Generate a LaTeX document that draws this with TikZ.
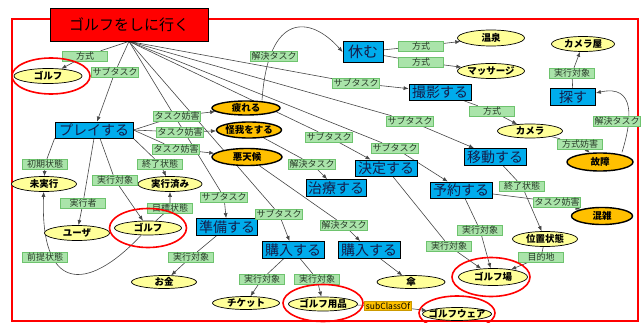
\documentclass[tikz,border=0pt]{standalone}
\usepackage{fontspec}
\setmainfont{Noto Sans CJK JP}
\usetikzlibrary{shapes.geometric,arrows.meta,backgrounds}

\definecolor{frameRed}{RGB}{255,0,0}
\definecolor{taskBlue}{RGB}{0,172,236}
\definecolor{taskInk}{RGB}{20,30,75}
\definecolor{conceptYellow}{RGB}{255,255,153}
\definecolor{eventOrange}{RGB}{255,192,0}
\definecolor{relGreen}{RGB}{170,228,170}
\definecolor{relEdge}{RGB}{110,195,110}
\definecolor{relInk}{RGB}{40,60,40}
\definecolor{edgeGray}{RGB}{70,70,70}

% text that does not change the size of its node, centred on the node
\newcommand\ztext[1]{\smash{\makebox[0pt]{\raisebox{-0.38em}{#1}}}}

\tikzset{
  wh/.style 2 args={minimum width=#1, minimum height=#2},
  relbox/.style={draw=relEdge, fill=relGreen, text=relInk, line width=0.4pt,
    font=\fontsize{9}{9}\selectfont, inner xsep=1pt, inner ysep=0.3pt,
    minimum width=45, minimum height=10},
  taskbox/.style={draw=black, fill=taskBlue, text=taskInk, line width=0.8pt,
    font=\fontsize{14}{14}\selectfont, inner sep=0pt},
  concept/.style={ellipse, draw=black, fill=conceptYellow, line width=0.7pt,
    font=\bfseries\fontsize{9.5}{10}\selectfont, inner sep=0pt},
  hazard/.style={ellipse, draw=black, fill=eventOrange, line width=1.4pt,
    font=\bfseries\fontsize{9.5}{10}\selectfont, inner sep=0pt},
  ring/.style={ellipse, draw=frameRed, line width=1.6pt, inner sep=0pt},
  link/.style={draw=edgeGray, line width=0.6pt, -{Latex[length=5pt,width=4pt]}},
}

\begin{document}
\begin{tikzpicture}[x=1pt,y=-1pt]
\useasboundingbox (0,0) rectangle (644,323);

% goal
\node[draw=black, fill=frameRed, line width=0.8pt, wh={158}{33}, inner sep=0pt,
      font=\fontsize{15}{15}\selectfont] (goal) at (129,24.5) {\ztext{ゴルフをしに行く}};

% tasks
\node[taskbox, wh={40}{21}, font=\fontsize{15}{15}\selectfont] (rest) at (363,52) {\ztext{休む}};
\node[taskbox, wh={62}{16}] (shoot) at (440,92) {\ztext{撮影する}};
\node[taskbox, wh={45}{17}] (search) at (573,97) {\ztext{探す}};
\node[taskbox, wh={78}{16}] (play) at (94,130) {\ztext{プレイする}};
\node[taskbox, wh={62}{17}] (move) at (495,157) {\ztext{移動する}};
\node[taskbox, wh={62}{16}] (decide) at (386,168) {\ztext{決定する}};
\node[taskbox, wh={60}{17}] (treat) at (336,188) {\ztext{治療する}};
\node[taskbox, wh={62}{16}] (reserve) at (461,190) {\ztext{予約する}};
\node[taskbox, wh={61}{17}] (prepare) at (227,227) {\ztext{準備する}};
\node[taskbox, wh={62}{17}] (buyA) at (293,250) {\ztext{購入する}};
\node[taskbox, wh={62}{17}] (buyB) at (369,250) {\ztext{購入する}};

% concepts
\node[concept, wh={68}{15}] (golfA) at (48,76) {\ztext{ゴルフ}};
\node[concept, wh={67}{16}] (onsen) at (491,38) {\ztext{温泉}};
\node[concept, wh={67}{15}] (massage) at (491,71) {\ztext{マッサージ}};
\node[concept, wh={63}{15}] (camshop) at (583,44) {\ztext{カメラ屋}};
\node[concept, wh={65}{14}] (camera) at (530,131) {\ztext{カメラ}};
\node[concept, wh={65}{15}] (undone) at (44,184) {\ztext{未実行}};
\node[concept, wh={64}{15}] (done) at (170,184) {\ztext{実行済み}};
\node[concept, wh={65}{15}] (user) at (77,233) {\ztext{ユーザ}};
\node[concept, wh={67}{14}] (golfB) at (148,228) {\ztext{ゴルフ}};
\node[concept, wh={65}{13}] (money) at (164,282) {\ztext{お金}};
\node[concept, wh={67}{13}] (ticket) at (246,303) {\ztext{チケット}};
\node[concept, wh={69}{14}] (gear) at (323,304) {\ztext{ゴルフ用品}};
\node[concept, wh={68}{13}] (umbrella) at (411,282) {\ztext{傘}};
\node[concept, wh={65}{15}] (location) at (545,239) {\ztext{位置状態}};
\node[concept, wh={69}{17}] (course) at (493,277) {\ztext{ゴルフ場}};
\node[concept, wh={69}{13}] (wear) at (457,314) {\ztext{ゴルフウェア}};

% hindrances
\node[hazard, wh={68}{14}] (tired) at (246,108) {\ztext{疲れる}};
\node[hazard, wh={65}{16}] (injury) at (249,130) {\ztext{怪我をする}};
\node[hazard, wh={70}{17}] (weather) at (247,157) {\ztext{悪天候}};
\node[hazard, wh={66}{18}] (failure) at (600,162) {\ztext{故障}};
\node[hazard, wh={61}{17}] (crowd) at (602,216) {\ztext{混雑}};

% relation labels
\node[relbox] (lMethodGolf) at (85,56) {方式};
\node[relbox] (lSubPlay) at (115,72) {サブタスク};
\node[relbox] (lSolveTired) at (274,56) {解決タスク};
\node[relbox] (lSubShoot) at (356,83) {サブタスク};
\node[relbox] (lMethodOnsen) at (421,46) {方式};
\node[relbox] (lMethodMassage) at (421,62) {方式};
\node[relbox] (lObjShop) at (572,73) {実行対象};
\node[relbox] (lMethodCam) at (492,111) {方式};
\node[relbox] (lSolveFailure) at (617,121) {解決タスク};
\node[relbox] (lSubMove) at (410,121) {サブタスク};
\node[relbox] (lSubDecide) at (329,137) {サブタスク};
\node[relbox] (lSubReserve) at (395,148) {サブタスク};
\node[relbox] (lHinderCam) at (580,144) {方式妨害};
\node[relbox] (lHinderTired) at (177,116) {タスク妨害};
\node[relbox] (lHinderInjury) at (180,132) {タスク妨害};
\node[relbox] (lHinderWeather) at (176,149) {タスク妨害};
\node[relbox] (lEndState) at (160,164) {終了状態};
\node[relbox] (lInitState) at (45,164) {初期状態};
\node[relbox] (lObjGolf) at (115,180) {実行対象};
\node[relbox] (lSolveInjury) at (312,164) {解決タスク};
\node[relbox] (lEndMove) at (522,186) {終了状態};
\node[relbox] (lHinderReserve) at (557,202) {タスク妨害};
\node[relbox] (lSubPrepare) at (224,197) {サブタスク};
\node[relbox] (lAgent) at (83,203) {実行者};
\node[relbox] (lGoalState) at (170,208) {目標状態};
\node[relbox] (lSubBuy) at (279,214) {サブタスク};
\node[relbox] (lSolveWeather) at (344,225) {解決タスク};
\node[relbox] (lObjReserve) at (480,230) {実行対象};
\node[relbox] (lObjDecide) at (449,246) {実行対象};
\node[relbox] (lObjMoney) at (191,257) {実行対象};
\node[relbox] (lPreState) at (45,257) {前提状態};
\node[relbox] (lDest) at (541,257) {目的地};
\node[relbox] (lObjTicket) at (262,279) {実行対象};
\node[relbox] (lObjGear) at (317,279) {実行対象};
\node[relbox, fill=eventOrange, draw=eventOrange!80!black, text=black,
      font=\fontsize{8.5}{9}\selectfont, minimum width=47, minimum height=9] (lSubClass) at (388,306) {subClassOf};

% highlight rings
\node[ring, wh={78}{36}] (ringA) at (51,76) {};
\node[ring, wh={77}{39}] (ringB) at (148,228) {};
\node[ring, wh={80}{37}] (ringC) at (323,303) {};
\node[ring, wh={78}{39}] (ringD) at (491,277) {};
\node[ring, wh={76}{34}] (ringE) at (457,313) {};

\begin{scope}[on background layer]
  \draw[frameRed, line width=1.5pt] (12,19) rectangle (638,321);

  % subtasks and method of the goal
  \draw[link] (goal.south) -- (lMethodGolf) -- (golfA);
  \draw[link] (goal.south) -- (lSubPlay) -- (play);
  \draw[link] (goal.south) -- (lSubShoot) -- (shoot);
  \draw[link] (goal.south) -- (lSubMove) -- (move);
  \draw[link] (goal.south) -- (lSubReserve) -- (reserve);
  \draw[link] (goal.south) -- (lSubDecide) -- (decide);
  \draw[link] (goal.south) -- (lSubPrepare) -- (prepare);
  \draw[link] (goal.south) -- (lSubBuy) -- (buyA);

  % playing
  \draw[link] (play.east) -- (lHinderTired) -- (tired);
  \draw[link] (play.east) -- (lHinderInjury) -- (injury);
  \draw[link] (play.east) -- (lHinderWeather) -- (weather);
  \draw[link] (play.south east) -- (lEndState) -- (done);
  \draw[link] (play.south west) -- (lInitState) -- (undone);
  \draw[link] (play.south) -- (lAgent) -- (user);
  \draw[link] ([xshift=6pt]play.south) -- (lObjGolf) -- (golfB);
  \draw[link] (golfB) -- (lGoalState) -- (done);
  \draw[link] (golfB) .. controls (85,295) and (40,290) .. (undone);

  % solutions
  \draw[link] ([xshift=16pt]tired.north) .. controls (268,12) and (310,15) .. (rest.west);
  \draw[link] ([xshift=22pt]failure.north) .. controls (632,120) and (636,84) .. ([yshift=4pt]search.east);
  \draw[link] (rest) -- (lMethodOnsen) -- (onsen);
  \draw[link] (rest) -- (lMethodMassage) -- (massage);
  \draw[link] (shoot) -- (lMethodCam) -- (camera);
  \draw[link] (camera) -- (lHinderCam) -- (failure);
  \draw[link] (search) -- (lObjShop) -- (camshop);
  \draw[link] (injury) -- (lSolveInjury) -- (treat);
  \draw[link] (weather) -- (lSolveWeather) -- (buyB);

  % travel and reservation
  \draw[link] (move) -- (lEndMove) -- (location);
  \draw[link] (reserve) -- (lHinderReserve) -- (crowd);
  \draw[link] (location) -- (lDest) -- (course);
  \draw[link] (decide) -- (lObjDecide) -- (course);
  \draw[link] (reserve) -- (lObjReserve) -- (course);

  % purchases
  \draw[link] (prepare) -- (lObjMoney) -- (money);
  \draw[link] (buyA) -- (lObjTicket) -- (ticket);
  \draw[link] (buyA) -- (lObjGear) -- (gear);
  \draw[link] (buyB) -- (umbrella);
  \draw[link] (gear) -- (lSubClass) -- (wear);
\end{scope}
\end{tikzpicture}
\end{document}
